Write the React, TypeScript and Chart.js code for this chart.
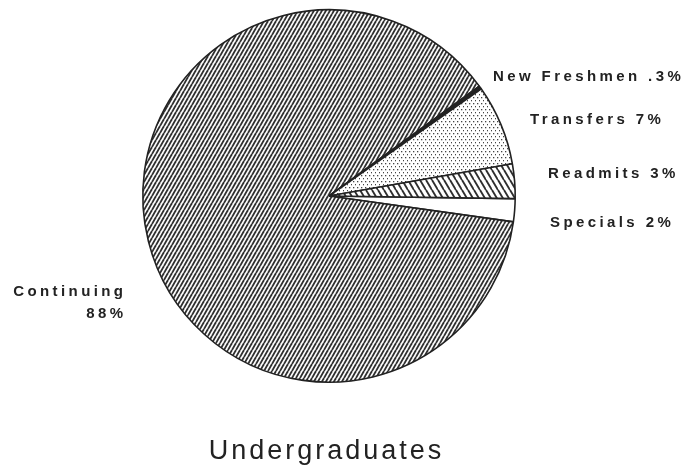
import React, { useEffect, useRef } from "react";
import { Chart, registerables } from "chart.js";

Chart.register(...registerables);

// Data (clockwise, starting just below 3 o'clock)
const categories = ["Specials", "Continuing", "New Freshmen", "Transfers", "Readmits"];
const percentValues = [2, 88, 0.3, 7, 3];
const labelTexts = ["Specials 2%", "Continuing|88%", "New Freshmen .3%", "Transfers 7%", "Readmits 3%"];
const chartTitle = "Undergraduates";

// Label layout (offsets from pie centre, px) and alignment
const labelOffsets: [number, number][] = [
  [221, 31],
  [-206, 100],
  [164, -115],
  [201, -72],
  [219, -18],
];
const labelAlign = ["left", "right", "left", "left", "left"];

const INK = "#222222";

function hatch(w: number, h: number, dir: number, lineW: number, color: string) {
  const c = document.createElement("canvas");
  c.width = w;
  c.height = h;
  const g = c.getContext("2d")!;
  g.fillStyle = "#fff";
  g.fillRect(0, 0, w, h);
  g.strokeStyle = color;
  g.lineWidth = lineW;
  for (let k = -1; k <= 1; k++) {
    g.beginPath();
    if (dir > 0) {
      g.moveTo(k * w, h);
      g.lineTo(k * w + w, 0);
    } else {
      g.moveTo(k * w, 0);
      g.lineTo(k * w + w, h);
    }
    g.stroke();
  }
  return g.createPattern(c, "repeat")!;
}

function dots(w: number, h: number, color: string) {
  const c = document.createElement("canvas");
  c.width = w;
  c.height = h;
  const g = c.getContext("2d")!;
  g.fillStyle = "#fff";
  g.fillRect(0, 0, w, h);
  g.fillStyle = color;
  g.fillRect(1, 1, 1.3, 1.3);
  g.fillRect(3, 4, 1.3, 1.3);
  return g.createPattern(c, "repeat")!;
}

const labelPlugin = {
  id: "pieLabels",
  afterDraw(chart: any) {
    const ctx = chart.ctx as CanvasRenderingContext2D;
    const arc = chart.getDatasetMeta(0).data[0];
    const cx = arc.x;
    const cy = arc.y;
    ctx.save();
    ctx.fillStyle = INK;
    ctx.textBaseline = "alphabetic";
    ctx.font = "bold 15px 'Liberation Sans', Arial, sans-serif";
    const sp = 3.4;
    (ctx as any).letterSpacing = sp + "px";
    labelTexts.forEach((t, i) => {
      const [dx, dy] = labelOffsets[i];
      const lines = t.split("|");
      lines.forEach((ln, j) => {
        const y = cy + dy + j * 22;
        if (labelAlign[i] === "right") {
          ctx.textAlign = "right";
          ctx.fillText(ln, cx + dx + sp, y);
        } else {
          ctx.textAlign = "left";
          ctx.fillText(ln, cx + dx, y);
        }
      });
    });
    // title
    ctx.font = "27px 'Liberation Sans', Arial, sans-serif";
    const tsp = 3;
    (ctx as any).letterSpacing = tsp + "px";
    ctx.textAlign = "center";
    ctx.fillText(chartTitle, cx - 4 + tsp / 2, cy + 263);
    ctx.restore();
  },
};

export default function App() {
  const ref = useRef<HTMLCanvasElement>(null);
  useEffect(() => {
    const canvas = ref.current!;
    const bg = [
      "#ffffff",
      hatch(4, 7, 1, 1.8, "#2e2e2e"),
      INK,
      dots(4, 6, "#444"),
      hatch(6, 10, -1, 1.9, "#2e2e2e"),
    ];
    const chart = new Chart(canvas, {
      type: "pie",
      data: {
        labels: categories,
        datasets: [
          {
            data: percentValues,
            backgroundColor: bg as any,
            borderColor: INK,
            borderWidth: 1.6,
          },
        ],
      },
      options: {
        responsive: false,
        animation: false,
        rotation: 90.8,
        layout: { padding: { top: 9, bottom: 84, left: 0, right: 32 } },
        plugins: {
          legend: { display: false },
          tooltip: { enabled: false },
          title: { display: false },
        },
      },
      plugins: [labelPlugin],
    });
    return () => chart.destroy();
  }, []);
  return (
    <div style={{ position: "fixed", left: 0, top: 0, width: 690, height: 467, background: "#fff" }}>
      <canvas ref={ref} width={690} height={467} style={{ width: 690, height: 467 }} />
    </div>
  );
}
